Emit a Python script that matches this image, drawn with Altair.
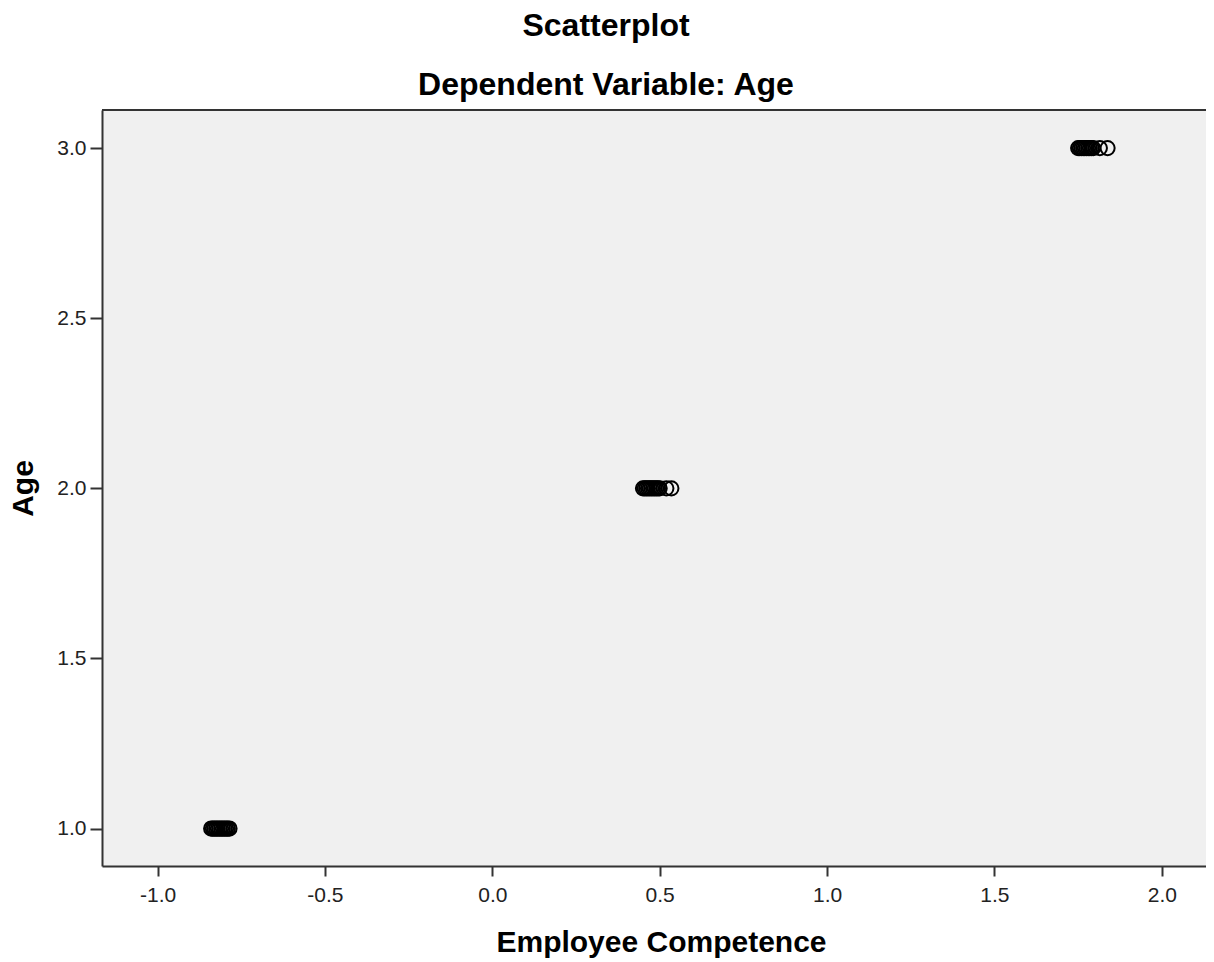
import altair as alt
import pandas as pd

# Values
age_1_x = [-0.840, -0.835, -0.830, -0.825, -0.820, -0.815, -0.810, -0.805,
           -0.800, -0.795, -0.790, -0.785]
age_2_x = [0.450, 0.455, 0.460, 0.465, 0.470, 0.475, 0.480, 0.485, 0.490,
           0.495, 0.500, 0.520, 0.535]
age_3_x = [1.750, 1.755, 1.760, 1.765, 1.770, 1.775, 1.780, 1.785, 1.790,
           1.795, 1.815, 1.838]
age_levels = [1.0, 2.0, 3.0]

x_ticks = [-1.0, -0.5, 0.0, 0.5, 1.0, 1.5, 2.0]
y_ticks = [1.0, 1.5, 2.0, 2.5, 3.0]
x_domain = [-1.166, 2.132]
y_domain = [0.890, 3.112]

rows = []
for lvl, xs in zip(age_levels, [age_1_x, age_2_x, age_3_x]):
    for v in xs:
        rows.append({"Employee Competence": v, "Age": lvl})
df = pd.DataFrame(rows)

FONT = "Liberation Sans"
W, H = 1104, 756
LABEL_EXPR = "replace(format(datum.value, '.1f'), '\u2212', '-')"

points = alt.Chart(df).mark_point(
    shape="circle", filled=False, color="black", stroke="black",
    strokeWidth=2, size=200, opacity=1
).encode(
    x=alt.X("Employee Competence:Q",
            scale=alt.Scale(domain=x_domain, nice=False, zero=False),
            axis=alt.Axis(values=x_ticks, labelExpr=LABEL_EXPR, grid=False,
                          tickSize=10, tickWidth=2, tickColor="#333",
                          domainColor="#333", domainWidth=2,
                          labelFont=FONT, labelFontSize=21, labelColor="#222",
                          labelPadding=8, titleFont=FONT, titleFontSize=30,
                          titleFontWeight="bold", titleColor="black",
                          titlePadding=22, titleX=559)),
    y=alt.Y("Age:Q",
            scale=alt.Scale(domain=y_domain, nice=False, zero=False),
            axis=alt.Axis(values=y_ticks, labelExpr=LABEL_EXPR, grid=False,
                          tickSize=12, tickWidth=2, tickColor="#333",
                          domainColor="#333", domainWidth=2,
                          labelFont=FONT, labelFontSize=21, labelColor="#222",
                          labelPadding=4, titleFont=FONT, titleFontSize=30,
                          titleFontWeight="bold", titleColor="black",
                          titlePadding=18)),
)

top_border = alt.Chart(df).mark_rule(color="#333", strokeWidth=2).encode(
    x=alt.value(0), x2=alt.value(W), y=alt.value(0)
)

chart = alt.layer(points, top_border).properties(
    width=W, height=H,
    autosize=alt.AutoSizeParams(type="none"),
    padding={"left": 94, "top": 102, "right": 0, "bottom": 96},
    background="white",
    title=alt.TitleParams(
        text="Scatterplot", subtitle="Dependent Variable: Age",
        font=FONT, fontSize=32, fontWeight="bold", color="black",
        subtitleFont=FONT, subtitleFontSize=32, subtitleFontWeight="bold",
        subtitleColor="black", anchor="middle", dx=-48, offset=7,
        subtitlePadding=27,
    ),
).configure_view(
    fill="#f0f0f0", stroke=None
)

chart.save("out.html", embed_options={"renderer": "svg", "actions": False})
